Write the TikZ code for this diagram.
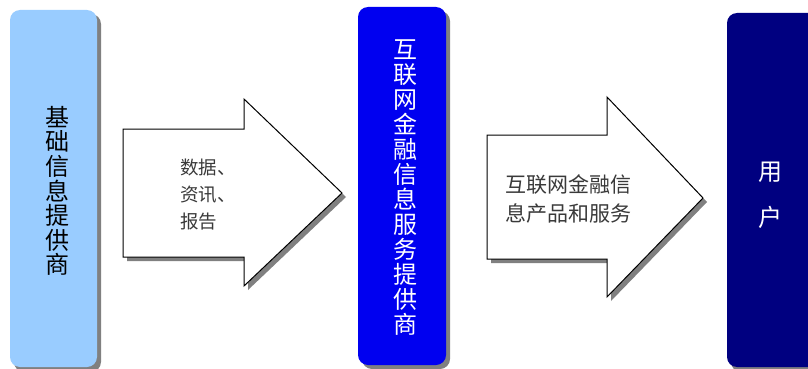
\documentclass[tikz,border=0pt]{standalone}
\usepackage{fontspec}
\newfontfamily\cjk{Noto Sans CJK SC}
\definecolor{lightbox}{HTML}{99CCFF}
\definecolor{bluebox}{HTML}{0000F0}
\definecolor{navybox}{HTML}{000080}
\definecolor{shadowgray}{HTML}{808080}
\definecolor{arrowtext}{HTML}{3A3A3A}
\tikzset{
  arrowshape/.style={draw=black, fill=white, line width=1pt, line join=miter},
  arrowshadow/.style={fill=shadowgray},
  vtext/.style={font=\cjk\fontsize{24}{24.6}\selectfont, align=center, inner sep=0pt},
  atext/.style={font=\cjk\fontsize{18.5}{27}\selectfont, align=left, inner sep=0pt, text=arrowtext, anchor=west},
}
\begin{document}
\begin{tikzpicture}[x=1pt,y=-1pt]
\useasboundingbox (0,0) rectangle (808,369);
\clip (0,0) rectangle (808,369);
% box 1
\fill[shadowgray, rounded corners=10pt] (14,14) rectangle (101,372);
\fill[lightbox, rounded corners=10pt] (10,10) rectangle (97,367);
\node[vtext, text=black] (t1) at (57,191) {基\\础\\信\\息\\提\\供\\商};
% arrow 1
\fill[arrowshadow] (127,133) -- (248,133) -- (248,103) -- (346,197) -- (248,290) -- (248,261) -- (127,261) -- cycle;
\draw[arrowshape] (123,129) -- (244,129) -- (244,99) -- (342,193) -- (244,286) -- (244,257) -- (123,257) -- cycle;
\node[atext] (a1) at (180,195) {数据、\\资讯、\\报告};
% box 2
\fill[shadowgray, rounded corners=10pt] (362,11) rectangle (450,369);
\fill[bluebox, rounded corners=10pt] (358,7) rectangle (446,365);
\node[vtext, text=white, font=\cjk\fontsize{24}{25}\selectfont] (t2) at (405,188) {互\\联\\网\\金\\融\\信\\息\\服\\务\\提\\供\\商};
% arrow 2
\fill[arrowshadow] (491,139) -- (611,139) -- (611,101) -- (707,202) -- (611,301) -- (611,263) -- (491,263) -- cycle;
\draw[arrowshape] (487,135) -- (607,135) -- (607,97) -- (703,198) -- (607,297) -- (607,259) -- (487,259) -- cycle;
\node[atext, font=\cjk\fontsize{21}{28.5}\selectfont] (a2) at (505,199) {互联网金融信\\息产品和服务};
% box 3
\fill[shadowgray, rounded corners=10pt] (731,17) rectangle (830,372);
\fill[navybox, rounded corners=10pt] (727,13) rectangle (826,367);
\node[vtext, text=white, font=\cjk\fontsize{24}{46}\selectfont] (t3) at (770,195) {用\\户};
\end{tikzpicture}
\end{document}
